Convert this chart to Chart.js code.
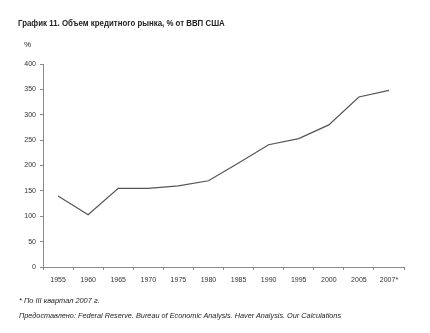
<!DOCTYPE html>
<html>
<head>
<meta charset="utf-8">
<script src="https://cdn.jsdelivr.net/npm/chart.js@4.4.1/dist/chart.umd.min.js"></script>
<style>
  body { margin: 0; background: #fff; }
  #wrap { position: relative; width: 430px; height: 333px; overflow: hidden; }
  #grafico { position: absolute; left: 0; top: 0; }
  .txt { position: absolute; color: #222; font-family: "Liberation Sans", Arial, sans-serif; white-space: nowrap; }
  #titulo { left: 18px; top: 17px; font-size: 9.4px; font-weight: bold; transform: scaleX(0.84); transform-origin: left top; }
  #unidade { left: 24px; top: 40px; font-size: 8px; }
  #nota1 { left: 19px; top: 296px; font-size: 7.4px; font-style: italic; }
  #nota2 { left: 19px; top: 311px; font-size: 7.3px; font-style: italic; }
</style>
</head>
<body>
<div id="wrap">
  <canvas id="grafico" width="430" height="333"></canvas>
  <div class="txt" id="titulo">График 11. Объем кредитного рынка, % от ВВП США</div>
  <div class="txt" id="unidade">%</div>
  <div class="txt" id="nota1">* По III квартал 2007 г.</div>
  <div class="txt" id="nota2">Предоставлено: Federal Reserve. Bureau of Economic Analysis. Haver Analysis. Our Calculations</div>
</div>
<script>
// anos (categorias)
var anos = ['1955', '1960', '1965', '1970', '1975', '1980', '1985', '1990', '1995', '2000', '2005', '2007*'];

// objem kreditnogo rynka, % VVP
var valores = [140, 103, 155, 155, 160, 170, 205, 241, 253, 280, 335, 348];

var corEixo = '#8a8a8a';
var fonteTicks = { family: 'Liberation Sans, Arial, sans-serif', size: 7 };

const config = {
    type: 'line',
    data: {
        labels: anos,
        datasets: [{
            data: valores,
            borderColor: '#555',
            borderWidth: 1.2,
            pointRadius: 0,
            tension: 0,
            fill: false
        }]
    },
    options: {
        responsive: false,
        animation: false,
        layout: { padding: { top: 64, right: 26, bottom: 0, left: 0 } },
        plugins: {
            legend: { display: false },
            tooltip: { enabled: false }
        },
        scales: {
            x: {
                offset: true,
                grid: { offset: true, drawOnChartArea: false, tickLength: 3, color: corEixo },
                border: { color: corEixo, width: 1 },
                ticks: { color: '#333', font: fonteTicks, padding: 6, maxRotation: 0, autoSkip: false },
                afterFit: function (scale) { scale.height = 66; }
            },
            y: {
                min: 0,
                max: 400,
                grid: { drawOnChartArea: false, tickLength: 3, color: corEixo },
                border: { color: corEixo, width: 1 },
                ticks: { stepSize: 50, color: '#333', font: fonteTicks, padding: 4 },
                afterFit: function (scale) { scale.width = 43; }
            }
        }
    }
};

let meuGrafico = new Chart(document.getElementById('grafico'), config);
</script>
</body>
</html>
